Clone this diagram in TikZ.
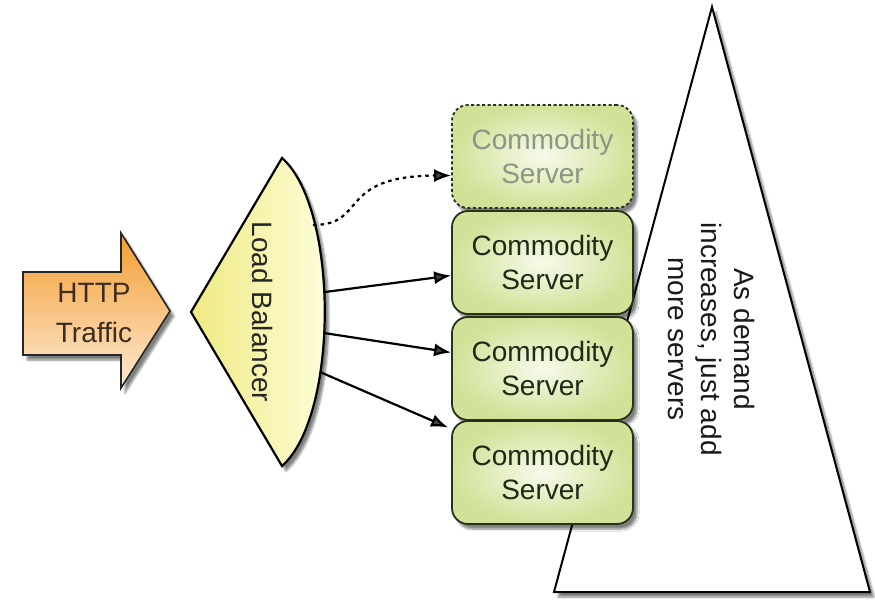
\documentclass[tikz,border=0pt]{standalone}
\usepackage{fontspec}
\setmainfont{Liberation Sans}
\usetikzlibrary{arrows.meta,shadows.blur,calc}

\definecolor{httptop}{HTML}{F39E32}
\definecolor{httpbot}{HTML}{FDE9D4}
\definecolor{httptext}{HTML}{3E2C1C}
\definecolor{lbyellow}{HTML}{EFEA82}
\definecolor{srvouter}{HTML}{D1E298}
\definecolor{srvinner}{HTML}{F7FAEA}
\definecolor{srvline}{HTML}{26331A}
\definecolor{srvtext}{HTML}{1F2A16}
\definecolor{srvghost}{HTML}{8C9586}

\tikzset{
  softshadow/.style={blur shadow={shadow xshift=4pt, shadow yshift=-5pt,
      shadow blur steps=6, shadow opacity=50}},
  label font/.style={font=\fontsize{28}{34}\selectfont},
  httparrow/.style={draw=black!85, line width=1.6pt, top color=httptop,
      bottom color=httpbot, softshadow},
  balancer/.style={draw=black, line width=2.2pt, left color=lbyellow,
      middle color=lbyellow!90!white, right color=white!88!yellow, softshadow},
  server/.style={draw=srvline, line width=1.8pt, rounded corners=16pt,
      minimum width=181pt, minimum height=103pt, inner sep=0pt,
      shading=radial, outer color=srvouter, inner color=srvinner,
      align=center, label font, text=srvtext, softshadow},
  ghost/.style={server, dash pattern=on 3pt off 2.5pt, text=srvghost},
  growth/.style={draw=black, line width=2pt, fill=white, softshadow},
  link/.style={line width=2.2pt, -{Latex[length=17pt,width=13pt]}},
}

\begin{document}
\begin{tikzpicture}[x=1pt,y=-1pt]
\useasboundingbox (0,0) rectangle (875,603);

% growth triangle behind the server stack
\path[growth] (712,7) -- (554,592) -- (870,592) -- cycle;
\node[rotate=-90, align=center, text=black!90,
      font=\fontsize{28}{33}\selectfont] (demand) at (711,339)
  {As demand\\increases, just add\\more servers};

% incoming traffic arrow
\path[httparrow] (23,272) -- (121,272) -- (121,233) -- (170,311)
  -- (121,388) -- (121,355) -- (23,355) -- cycle;
\node[align=center, text=httptext, font=\fontsize{28}{40}\selectfont]
  (http) at (94,313) {HTTP\\Traffic};

% load balancer
\path[balancer] (282,158) -- (191,312) -- (282,466)
  .. controls (339,416) and (339,208) .. (282,158) -- cycle;
\node[label font, rotate=-90, text=black!85] (lb) at (263,312) {Load Balancer};
\coordinate (lbA) at (313,225);
\coordinate (lbB) at (325,292);
\coordinate (lbC) at (324,333);
\coordinate (lbD) at (320,372);

% server stack
\node[ghost]  (s1) at (542.5,156.5) {Commodity\\Server};
\node[server] (s2) at (542.5,262.5) {Commodity\\Server};
\node[server] (s3) at (542.5,368.5) {Commodity\\Server};
\node[server] (s4) at (542.5,472.5) {Commodity\\Server};

% connections from the balancer
\draw[link, dash pattern=on 3.5pt off 4pt] (lbA) .. controls (368,225) and (336,176)
  .. ([yshift=-19pt]s1.west);
\draw[link] (lbB) -- ([yshift=-13pt]s2.west);
\draw[link] (lbC) -- ([yshift=16pt]s3.west);
\draw[link] (lbD) -- ([xshift=-3pt,yshift=45pt]s4.west);
\end{tikzpicture}
\end{document}
